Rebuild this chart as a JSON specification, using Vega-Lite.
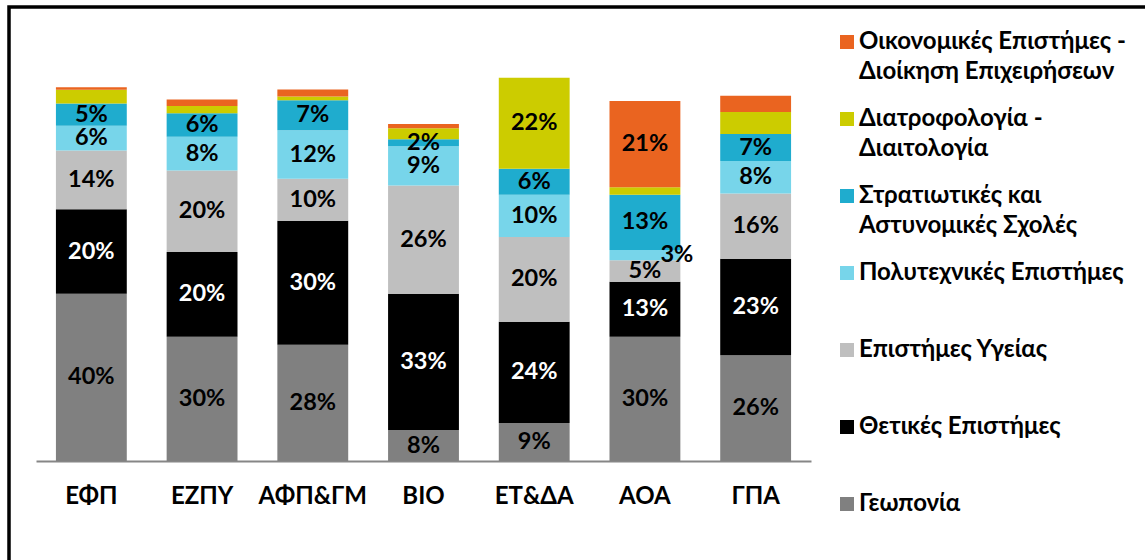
{
  "$schema": "https://vega.github.io/schema/vega-lite/v6.json",
  "autosize": {"type": "none"},
  "padding": {"left": 9, "top": 7, "right": -4, "bottom": -3},
  "width": 1140,
  "height": 556,
  "background": "white",
  "config": {
    "view": {"stroke": "#000000", "strokeWidth": 3.5},
    "style": {"guide-label": {"lineHeight": 30}}
  },
  "data": {
    "values": [
      {"g": "ΕΦΠ", "s": "Γεωπονία", "k": 1, "v": 40.0, "lbl": "40%"},
      {"g": "ΕΦΠ", "s": "Θετικές Επιστήμες", "k": 2, "v": 20.2, "lbl": "20%"},
      {"g": "ΕΦΠ", "s": "Επιστήμες Υγείας", "k": 3, "v": 14.1, "lbl": "14%"},
      {"g": "ΕΦΠ", "s": "Πολυτεχνικές Επιστήμες", "k": 4, "v": 5.9, "lbl": "6%"},
      {"g": "ΕΦΠ", "s": "Στρατιωτικές και Αστυνομικές Σχολές", "k": 5, "v": 5.3, "lbl": "5%"},
      {"g": "ΕΦΠ", "s": "Διατροφολογία - Διαιτολογία", "k": 6, "v": 3.3, "lbl": ""},
      {"g": "ΕΦΠ", "s": "Οικονομικές Επιστήμες - Διοίκηση Επιχειρήσεων", "k": 7, "v": 0.6, "lbl": ""},
      {"g": "ΕΖΠΥ", "s": "Γεωπονία", "k": 1, "v": 29.7, "lbl": "30%"},
      {"g": "ΕΖΠΥ", "s": "Θετικές Επιστήμες", "k": 2, "v": 20.3, "lbl": "20%"},
      {"g": "ΕΖΠΥ", "s": "Επιστήμες Υγείας", "k": 3, "v": 19.5, "lbl": "20%"},
      {"g": "ΕΖΠΥ", "s": "Πολυτεχνικές Επιστήμες", "k": 4, "v": 8.1, "lbl": "8%"},
      {"g": "ΕΖΠΥ", "s": "Στρατιωτικές και Αστυνομικές Σχολές", "k": 5, "v": 5.6, "lbl": "6%"},
      {"g": "ΕΖΠΥ", "s": "Διατροφολογία - Διαιτολογία", "k": 6, "v": 1.7, "lbl": ""},
      {"g": "ΕΖΠΥ", "s": "Οικονομικές Επιστήμες - Διοίκηση Επιχειρήσεων", "k": 7, "v": 1.6, "lbl": ""},
      {"g": "ΑΦΠ&ΓΜ", "s": "Γεωπονία", "k": 1, "v": 27.8, "lbl": "28%"},
      {"g": "ΑΦΠ&ΓΜ", "s": "Θετικές Επιστήμες", "k": 2, "v": 29.7, "lbl": "30%"},
      {"g": "ΑΦΠ&ΓΜ", "s": "Επιστήμες Υγείας", "k": 3, "v": 10.0, "lbl": "10%"},
      {"g": "ΑΦΠ&ΓΜ", "s": "Πολυτεχνικές Επιστήμες", "k": 4, "v": 11.6, "lbl": "12%"},
      {"g": "ΑΦΠ&ΓΜ", "s": "Στρατιωτικές και Αστυνομικές Σχολές", "k": 5, "v": 7.2, "lbl": "7%"},
      {"g": "ΑΦΠ&ΓΜ", "s": "Διατροφολογία - Διαιτολογία", "k": 6, "v": 0.9, "lbl": ""},
      {"g": "ΑΦΠ&ΓΜ", "s": "Οικονομικές Επιστήμες - Διοίκηση Επιχειρήσεων", "k": 7, "v": 1.7, "lbl": ""},
      {"g": "ΒΙΟ", "s": "Γεωπονία", "k": 1, "v": 7.4, "lbl": "8%"},
      {"g": "ΒΙΟ", "s": "Θετικές Επιστήμες", "k": 2, "v": 32.6, "lbl": "33%"},
      {"g": "ΒΙΟ", "s": "Επιστήμες Υγείας", "k": 3, "v": 25.9, "lbl": "26%"},
      {"g": "ΒΙΟ", "s": "Πολυτεχνικές Επιστήμες", "k": 4, "v": 9.4, "lbl": "9%"},
      {"g": "ΒΙΟ", "s": "Στρατιωτικές και Αστυνομικές Σχολές", "k": 5, "v": 1.7, "lbl": "2%"},
      {"g": "ΒΙΟ", "s": "Διατροφολογία - Διαιτολογία", "k": 6, "v": 2.6, "lbl": ""},
      {"g": "ΒΙΟ", "s": "Οικονομικές Επιστήμες - Διοίκηση Επιχειρήσεων", "k": 7, "v": 1.0, "lbl": ""},
      {"g": "ΕΤ&ΔΑ", "s": "Γεωπονία", "k": 1, "v": 9.1, "lbl": "9%"},
      {"g": "ΕΤ&ΔΑ", "s": "Θετικές Επιστήμες", "k": 2, "v": 24.2, "lbl": "24%"},
      {"g": "ΕΤ&ΔΑ", "s": "Επιστήμες Υγείας", "k": 3, "v": 20.3, "lbl": "20%"},
      {"g": "ΕΤ&ΔΑ", "s": "Πολυτεχνικές Επιστήμες", "k": 4, "v": 10.1, "lbl": "10%"},
      {"g": "ΕΤ&ΔΑ", "s": "Στρατιωτικές και Αστυνομικές Σχολές", "k": 5, "v": 6.2, "lbl": "6%"},
      {"g": "ΕΤ&ΔΑ", "s": "Διατροφολογία - Διαιτολογία", "k": 6, "v": 21.8, "lbl": "22%"},
      {"g": "ΕΤ&ΔΑ", "s": "Οικονομικές Επιστήμες - Διοίκηση Επιχειρήσεων", "k": 7, "v": 0.0, "lbl": ""},
      {"g": "ΑΟΑ", "s": "Γεωπονία", "k": 1, "v": 29.7, "lbl": "30%"},
      {"g": "ΑΟΑ", "s": "Θετικές Επιστήμες", "k": 2, "v": 13.2, "lbl": "13%"},
      {"g": "ΑΟΑ", "s": "Επιστήμες Υγείας", "k": 3, "v": 5.1, "lbl": "5%"},
      {"g": "ΑΟΑ", "s": "Πολυτεχνικές Επιστήμες", "k": 4, "v": 2.5, "lbl": "3%"},
      {"g": "ΑΟΑ", "s": "Στρατιωτικές και Αστυνομικές Σχολές", "k": 5, "v": 13.2, "lbl": "13%"},
      {"g": "ΑΟΑ", "s": "Διατροφολογία - Διαιτολογία", "k": 6, "v": 1.8, "lbl": ""},
      {"g": "ΑΟΑ", "s": "Οικονομικές Επιστήμες - Διοίκηση Επιχειρήσεων", "k": 7, "v": 20.6, "lbl": "21%"},
      {"g": "ΓΠΑ", "s": "Γεωπονία", "k": 1, "v": 25.3, "lbl": "26%"},
      {"g": "ΓΠΑ", "s": "Θετικές Επιστήμες", "k": 2, "v": 23.1, "lbl": "23%"},
      {"g": "ΓΠΑ", "s": "Επιστήμες Υγείας", "k": 3, "v": 15.6, "lbl": "16%"},
      {"g": "ΓΠΑ", "s": "Πολυτεχνικές Επιστήμες", "k": 4, "v": 7.8, "lbl": "8%"},
      {"g": "ΓΠΑ", "s": "Στρατιωτικές και Αστυνομικές Σχολές", "k": 5, "v": 6.4, "lbl": "7%"},
      {"g": "ΓΠΑ", "s": "Διατροφολογία - Διαιτολογία", "k": 6, "v": 5.3, "lbl": ""},
      {"g": "ΓΠΑ", "s": "Οικονομικές Επιστήμες - Διοίκηση Επιχειρήσεων", "k": 7, "v": 3.9, "lbl": ""}
    ]
  },
  "encoding": {
    "x": {
      "field": "g", "type": "nominal", "sort": null, "title": null,
      "scale": {"range": [27, 802], "paddingInner": 0.36, "paddingOuter": 0.18},
      "axis": {
        "offset": -102, "domainColor": "#868686", "domainWidth": 2, "ticks": false, "tickSize": 0,
        "labelAngle": 0, "labelFont": "Lato", "labelFontSize": 24, "labelFontWeight": "bold",
        "labelColor": "#000000", "labelPadding": 23, "grid": false
      }
    },
    "y": {
      "field": "v", "type": "quantitative", "stack": "zero",
      "scale": {"domain": [0, 100], "range": [454, 36]},
      "axis": null
    },
    "order": {"field": "k", "type": "quantitative"}
  },
  "layer": [
    {
      "mark": {"type": "bar"},
      "encoding": {
        "color": {
          "field": "s", "type": "nominal",
          "scale": {
            "domain": ["Οικονομικές Επιστήμες - Διοίκηση Επιχειρήσεων", "Διατροφολογία - Διαιτολογία", "Στρατιωτικές και Αστυνομικές Σχολές", "Πολυτεχνικές Επιστήμες", "Επιστήμες Υγείας", "Θετικές Επιστήμες", "Γεωπονία"],
            "range": ["#EA6420", "#CCCC00", "#1FACCE", "#77D5EA", "#BFBFBF", "#000000", "#808080"]
          },
          "legend": {
            "orient": "none", "legendX": 826, "legendY": 23, "title": null, "padding": 0,
            "symbolType": "square", "symbolSize": 196, "symbolStrokeWidth": 0, "symbolOpacity": 1,
            "labelFont": "Lato", "labelFontSize": 24, "labelFontWeight": "bold", "labelColor": "#000000",
            "labelOffset": 0, "labelLimit": 400, "rowPadding": 23, "gridAlign": "all",
            "labelExpr": "datum.label == 'Οικονομικές Επιστήμες - Διοίκηση Επιχειρήσεων' ? ['Οικονομικές Επιστήμες -', 'Διοίκηση Επιχειρήσεων'] : datum.label == 'Διατροφολογία - Διαιτολογία' ? ['Διατροφολογία -', 'Διαιτολογία'] : datum.label == 'Στρατιωτικές και Αστυνομικές Σχολές' ? ['Στρατιωτικές και', 'Αστυνομικές Σχολές'] : datum.label"
          }
        }
      }
    },
    {
      "mark": {"type": "text", "font": "Lato", "fontSize": 23.5, "fontWeight": "bold"},
      "encoding": {
        "y": {"field": "v", "type": "quantitative", "stack": "zero", "bandPosition": 0.5},
        "detail": {"field": "s", "type": "nominal"},
        "text": {"condition": {"test": "datum.g == 'ΑΟΑ' && datum.k == 4", "value": ""}, "field": "lbl"},
        "color": {"condition": {"test": "datum.k == 2", "value": "#ffffff"}, "value": "#000000"}
      }
    },
    {
      "mark": {"type": "text", "font": "Lato", "fontSize": 23.5, "fontWeight": "bold", "dx": 32},
      "encoding": {
        "y": {"field": "v", "type": "quantitative", "stack": "zero", "bandPosition": 0.5},
        "detail": {"field": "s", "type": "nominal"},
        "text": {"condition": {"test": "datum.g == 'ΑΟΑ' && datum.k == 4", "field": "lbl"}, "value": ""},
        "color": {"value": "#000000"}
      }
    }
  ]
}
